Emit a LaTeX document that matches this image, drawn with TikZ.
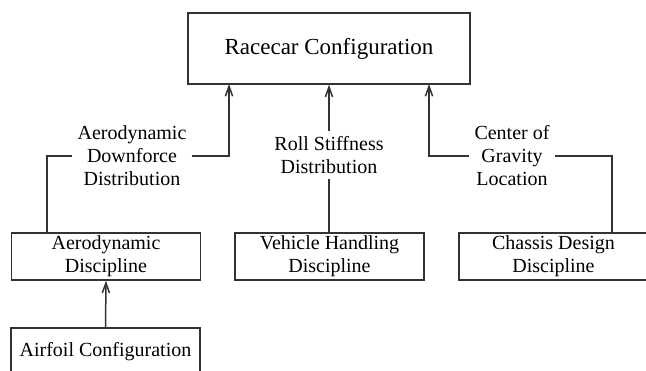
\documentclass[tikz,border=0pt]{standalone}
\usepackage{fontspec}
\setmainfont{Liberation Serif}[Ligatures=TeX]
\newfontfamily\timesfont{Liberation Serif}
\usetikzlibrary{arrows.meta}
\tikzset{
         blockbox/.style={draw=black!80,line width=0.75pt,inner sep=0pt,align=center,
                          minimum width=94.5pt,minimum height=23.5pt,
                          font=\timesfont\fontsize{10}{11.5}\selectfont},
         flowlabel/.style={inner sep=2.5pt,align=center,font=\timesfont\fontsize{10}{11.5}\selectfont},
         wire/.style={draw=black!80,line width=0.75pt},
         feed/.style={wire,-{Straight Barb[length=5pt,width=3.6pt]}}
        }
\begin{document}
\begin{tikzpicture}[x=0.5pt,y=-0.5pt]
      \useasboundingbox (0,0) rectangle (646,370); % page
      \node[blockbox,minimum width=141pt,minimum height=35.5pt,font=\timesfont\fontsize{11.5}{13}\selectfont] (racecar) at (329,48.5) {Racecar Configuration}; % top box
      \node[blockbox] (aero) at (106,256.5) {Aerodynamic\\Discipline}; % aero box
      \node[blockbox] (handling) at (329.5,256.5) {Vehicle Handling\\Discipline}; % handling box
      \node[blockbox] (chassis) at (553.5,256.5) {Chassis Design\\Discipline}; % chassis box
      \node[blockbox] (airfoil) at (105.5,351.5) {Airfoil Configuration}; % airfoil box
      \node[flowlabel] (downforce) at (132,156) {Aerodynamic\\Downforce\\Distribution}; % left label
      \node[flowlabel] (roll) at (329,155) {Roll Stiffness\\Distribution}; % middle label
      \node[flowlabel] (gravity) at (512,156) {Center of\\Gravity\\Location}; % right label
      \coordinate (aerotap) at (47,233); % left riser
      \coordinate (chassistap) at (612,233); % right riser
      \coordinate (racecarL) at (229,84); % left inlet
      \coordinate (racecarR) at (429,84); % right inlet
      \draw[feed] (airfoil.north) -- (aero.south); % airfoil to aero
      \draw[wire] (aerotap) |- (downforce.west); % aero up
      \draw[feed] (downforce.east) -| (racecarL); % downforce in
      \draw[wire] (roll.south) -- (handling.north -| roll.south); % handling up
      \draw[feed] (roll.north) -- (racecar.south -| roll.north); % roll in
      \draw[wire] (chassistap) |- (gravity.east); % chassis up
      \draw[feed] (gravity.west) -| (racecarR); % gravity in
\end{tikzpicture}
\end{document}
